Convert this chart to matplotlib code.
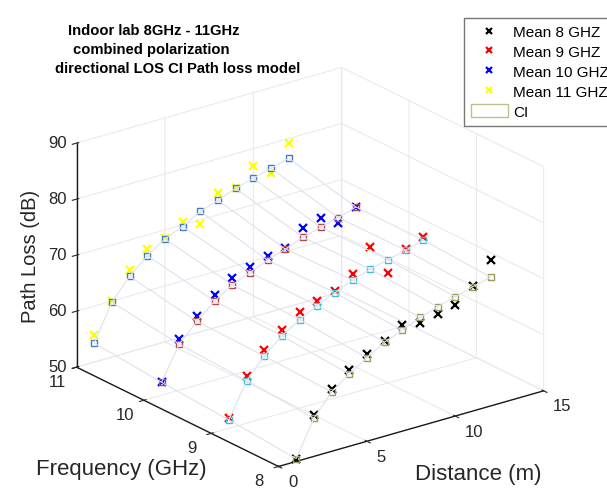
import numpy as np
import matplotlib
matplotlib.use("Agg")
import matplotlib.pyplot as plt
from matplotlib.lines import Line2D
from matplotlib.patches import Patch
from mpl_toolkits.mplot3d import proj3d

# values
distance_m = [1, 2, 3, 4, 5, 6, 7, 8, 9, 10, 11, 12]
freqs_ghz = [8, 9, 10, 11]

mean_8 = [50.5, 57.3, 61.2, 63.6, 65.6, 67.0, 68.9, 68.4, 69.1, 69.8, 72.3, 76.0]
mean_9 = [51.8, 58.5, 62.1, 64.8, 67.2, 68.2, 69.1, 71.2, 75.2, 69.6, 73.0, 74.2]
mean_10 = [52.4, 59.1, 62.4, 65.2, 67.4, 68.3, 69.5, 69.9, 72.6, 73.5, 71.7, 73.7]
mean_11 = [54.8, 60.0, 64.7, 67.5, 68.5, 70.5, 69.3, 73.9, 73.8, 76.9, 74.8, 79.3]

ci_8 = [50.5, 56.8, 60.6, 62.9, 64.9, 66.8, 68.0, 69.4, 70.4, 71.3, 72.2, 73.0]
ci_9 = [51.5, 57.6, 61.1, 63.8, 65.8, 67.4, 68.8, 70.2, 71.2, 72.0, 72.8, 73.7]
ci_10 = [52.3, 58.2, 61.4, 64.1, 66.1, 67.4, 68.7, 69.8, 71.0, 71.9, 72.7, 73.7]
ci_11 = [53.4, 59.8, 63.5, 66.3, 68.4, 69.7, 71.5, 72.6, 73.8, 74.7, 75.6, 76.5]

mean_labels = ["Mean 8 GHZ", "Mean 9 GHZ", "Mean 10 GHZ", "Mean 11 GHZ"]
mean_colors = ["black", "red", "blue", "yellow"]
ci_colors = ["#9c9c58", "#3fbfcf", "#b04a4a", "#3f7fbf"]

W, H = 607, 489
plt.rcParams["font.family"] = ["Liberation Sans", "DejaVu Sans"]
plt.rcParams["grid.color"] = "#e8e8e8"
plt.rcParams["grid.linewidth"] = 0.7

fig = plt.figure(figsize=(W / 100, H / 100), dpi=100)
ax = fig.add_axes([0, 0, 1, 1], projection="3d", proj_type="ortho")
ax.view_init(elev=22, azim=-127.3)
ax.set_box_aspect((4, 4, 2.9))

D, F = np.meshgrid(distance_m, freqs_ghz)
CI = np.array([ci_8, ci_9, ci_10, ci_11])
ax.plot_wireframe(D, F, CI, color="#dfe1f1", linewidth=0.8)

means = [mean_8, mean_9, mean_10, mean_11]
for f, m, c in zip(freqs_ghz, means, mean_colors):
    ax.plot(distance_m, [f] * len(distance_m), m, linestyle="none", marker="x",
            markersize=6, markeredgewidth=1.6, color=c)
for f, ci, c in zip(freqs_ghz, CI, ci_colors):
    ax.plot(distance_m, [f] * len(distance_m), ci, linestyle="none", marker="s",
            markersize=5, markeredgewidth=1.0, markerfacecolor="none", color=c)

ax.set_xlim(0, 15)
ax.set_ylim(8, 11)
ax.set_zlim(50, 90)
ax.set_xticks([0, 5, 10, 15])
ax.set_yticks([8, 9, 10, 11])
ax.set_zticks([50, 60, 70, 80, 90])
ax.tick_params(labelsize=12, colors="#262626")
ax.tick_params(axis="x", pad=1)
ax.tick_params(axis="y", pad=6)
ax.tick_params(axis="z", pad=-4)

for axis in (ax.xaxis, ax.yaxis, ax.zaxis):
    axis.set_pane_color((1, 1, 1, 0))
    axis.pane.set_edgecolor("#e8e8e8")
    axis.line.set_color("#1a1a1a")
    axis.line.set_linewidth(1.0)

# fit the projected box onto the reference pixel corners
fig.canvas.draw()
corners = np.array([[0, 8, 50], [0, 11, 50], [15, 8, 50], [0, 11, 90], [15, 11, 90]])
targets = np.array([[280, 468], [77, 368], [543, 393], [77, 143], [340, 68]], float)
targets[:, 1] = H - targets[:, 1]
px, py, _ = proj3d.proj_transform(corners[:, 0], corners[:, 1], corners[:, 2], ax.get_proj())
disp = ax.transData.transform(np.column_stack([px, py]))
pos = ax.get_position()
L0 = pos.width * W
c0 = np.array([(pos.x0 + pos.width / 2) * W, (pos.y0 + pos.height / 2) * H])
u = (disp - c0) / L0
A = np.zeros((10, 3))
A[0::2, 0] = 1
A[1::2, 1] = 1
A[0::2, 2] = u[:, 0]
A[1::2, 2] = u[:, 1]
cx, cy, L = np.linalg.lstsq(A, targets.ravel(), rcond=None)[0]
ax.set_position([(cx - L / 2) / W, (cy - L / 2) / H, L / W, L / H])

# tick label anchoring closer to the MATLAB look
for t in ax.xaxis.get_major_ticks():
    t.label1.set_horizontalalignment("left")
    t.label1.set_verticalalignment("center")
for t in ax.yaxis.get_major_ticks():
    t.label1.set_verticalalignment("bottom")
for t in ax.zaxis.get_major_ticks():
    t.label1.set_horizontalalignment("right")
    t.label1.set_verticalalignment("center")

# titles and axis labels placed like the reference
fig.text(68 / W, 1 - 31 / H, "Indoor lab 8GHz - 11GHz", fontsize=10.6, fontweight="bold", va="center")
fig.text(73 / W, 1 - 50 / H, "combined polarization", fontsize=10.6, fontweight="bold", va="center")
fig.text(55 / W, 1 - 69 / H, "directional LOS CI Path loss model", fontsize=10.6, fontweight="bold", va="center")
fig.text(30 / W, 1 - 256 / H, "Path Loss (dB)", fontsize=14.5, rotation=90, ha="center", va="center", color="#262626")
fig.text(121 / W, 1 - 470 / H, "Frequency (GHz)", fontsize=16, ha="center", va="center", color="#262626")
fig.text(478 / W, 1 - 475 / H, "Distance (m)", fontsize=16, ha="center", va="center", color="#262626")

handles = [Line2D([], [], linestyle="none", marker="x", markersize=5, markeredgewidth=1.6, color=c)
           for c in mean_colors]
handles.append(Patch(facecolor="white", edgecolor="#b4c48c", linewidth=1.0))
leg = fig.legend(handles, mean_labels + ["CI"], loc="upper left",
                 bbox_to_anchor=(464 / W, 1 - 19 / H), bbox_transform=fig.transFigure,
                 fontsize=11, frameon=True, fancybox=False, borderaxespad=0,
                 handlelength=2.4, handleheight=0.85, handletextpad=0.35,
                 labelspacing=0.36, borderpad=0.45)
leg.get_frame().set_edgecolor("#555555")
leg.get_frame().set_linewidth(1.0)

fig.savefig("out.png", dpi=100)
